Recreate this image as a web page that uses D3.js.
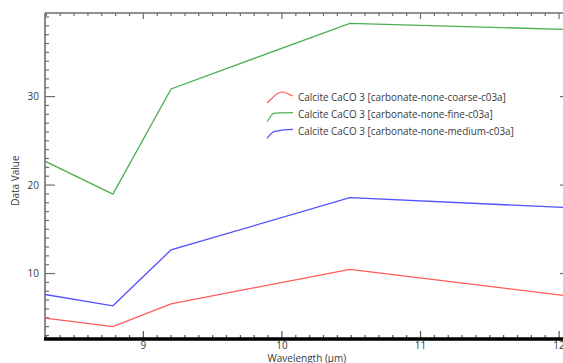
<!DOCTYPE html>
<html>
<head>
<meta charset="utf-8">
<script src="https://cdn.jsdelivr.net/npm/d3@7"></script>
<style>
  html, body { margin: 0; padding: 0; background: #fff; }
  svg { display: block; }
  text { font-family: "Open Sans", "Noto Sans", sans-serif; fill: #3a3a3a; }
</style>
</head>
<body>
<svg id="chart" width="563" height="363"></svg>
<script>
// Wavelengths (µm) of the sampled bands
const wavelengths = [8.29, 8.78, 9.2, 10.49, 12.05];

// Spectral values per sample
const coarse = [4.96, 4.01, 6.58, 10.48, 7.48];
const fine   = [22.7, 18.97, 30.86, 38.28, 37.6];
const medium = [7.63, 6.35, 12.68, 18.57, 17.46];

const seriesNames = [
  "Calcite CaCO 3 [carbonate-none-coarse-c03a]",
  "Calcite CaCO 3 [carbonate-none-fine-c03a]",
  "Calcite CaCO 3 [carbonate-none-medium-c03a]"
];
const seriesColors = ["#ff5a5a", "#4caf50", "#5050ff"];

const xTicks = [9, 10, 11, 12];
const yTicks = [10, 20, 30];

const series = [coarse, fine, medium].map((vals, i) => ({
  name: seriesNames[i],
  color: seriesColors[i],
  points: vals.map((v, j) => ({ x: wavelengths[j], y: v }))
}));

const svg = d3.select("#chart");
const pLeft = 45, pRight = 566, pTop = 13, pBottom = 339;

const x = d3.scaleLinear().domain([8.29, 12.05]).range([pLeft, pRight]);
const y = d3.scaleLinear().domain([2.6, 39.45]).range([pBottom, pTop]);

svg.append("defs").append("clipPath").attr("id", "plotClip")
  .append("rect").attr("x", pLeft).attr("y", pTop)
  .attr("width", pRight - pLeft).attr("height", pBottom - pTop);

// Minor tick positions
const xMinor = d3.range(83, 121).map(d => d / 10).filter(v => v >= 8.29 && v <= 12.05 && !xTicks.includes(v));
const yMinor = d3.range(3, 40).filter(v => !yTicks.includes(v));

const axisG = svg.append("g");

// Left axis (ticks pointing inward)
axisG.append("line").attr("x1", pLeft).attr("x2", pLeft).attr("y1", pTop).attr("y2", pBottom)
  .attr("stroke", "#6e6e6e").attr("stroke-width", 1.6);
axisG.selectAll(".ylminor").data(yMinor).enter().append("line")
  .attr("x1", pLeft).attr("x2", pLeft + 4).attr("y1", d => y(d)).attr("y2", d => y(d))
  .attr("stroke", "#6e6e6e").attr("stroke-width", 1.2);
axisG.selectAll(".ylmajor").data(yTicks).enter().append("line")
  .attr("x1", pLeft).attr("x2", pLeft + 10).attr("y1", d => y(d)).attr("y2", d => y(d))
  .attr("stroke", "#6e6e6e").attr("stroke-width", 1.2);
axisG.selectAll(".yl").data(yTicks).enter().append("text")
  .attr("x", 39).attr("y", d => y(d)).attr("dy", "0.35em")
  .attr("text-anchor", "end").attr("font-size", 10).text(d => d);

// Right axis ticks
axisG.selectAll(".yrminor").data(yMinor).enter().append("line")
  .attr("x1", pRight).attr("x2", pRight - 3).attr("y1", d => y(d)).attr("y2", d => y(d))
  .attr("stroke", "#6e6e6e").attr("stroke-width", 1.2);
axisG.selectAll(".yrmajor").data(yTicks).enter().append("line")
  .attr("x1", pRight).attr("x2", pRight - 6).attr("y1", d => y(d)).attr("y2", d => y(d))
  .attr("stroke", "#6e6e6e").attr("stroke-width", 1.2);

// Top axis
axisG.append("line").attr("x1", pLeft).attr("x2", pRight).attr("y1", pTop).attr("y2", pTop)
  .attr("stroke", "#6e6e6e").attr("stroke-width", 1.6);
axisG.selectAll(".xtminor").data(xMinor).enter().append("line")
  .attr("x1", d => x(d)).attr("x2", d => x(d)).attr("y1", pTop).attr("y2", pTop + 3)
  .attr("stroke", "#6e6e6e").attr("stroke-width", 1.2);
axisG.selectAll(".xtmajor").data(xTicks).enter().append("line")
  .attr("x1", d => x(d)).attr("x2", d => x(d)).attr("y1", pTop).attr("y2", pTop + 6)
  .attr("stroke", "#6e6e6e").attr("stroke-width", 1.2);

// Bottom axis (heavy baseline)
axisG.selectAll(".xbminor").data(xMinor).enter().append("line")
  .attr("x1", d => x(d)).attr("x2", d => x(d)).attr("y1", pBottom).attr("y2", pBottom - 4)
  .attr("stroke", "#555").attr("stroke-width", 1.2);
axisG.selectAll(".xbmajor").data(xTicks).enter().append("line")
  .attr("x1", d => x(d)).attr("x2", d => x(d)).attr("y1", pBottom).attr("y2", pBottom - 8)
  .attr("stroke", "#555").attr("stroke-width", 1.2);
axisG.append("line").attr("x1", pLeft - 1).attr("x2", pRight).attr("y1", pBottom).attr("y2", pBottom)
  .attr("stroke", "#000").attr("stroke-width", 3.4);
axisG.selectAll(".xl").data(xTicks).enter().append("text")
  .attr("x", d => x(d)).attr("y", 345.3).attr("dy", "0.35em")
  .attr("text-anchor", "middle").attr("font-size", 10).text(d => d);

// Axis titles
svg.append("text").attr("x", x(10.18)).attr("y", 358.3).attr("dy", "0.35em")
  .attr("text-anchor", "middle").attr("font-size", 10).text("Wavelength (µm)");
svg.append("text").attr("transform", `translate(15,${y(20.5)}) rotate(-90)`)
  .attr("dy", "0.35em").attr("text-anchor", "middle").attr("font-size", 10).text("Data Value");

// Series lines
const line = d3.line().x(d => x(d.x)).y(d => y(d.y));
svg.append("g").attr("clip-path", "url(#plotClip)")
  .selectAll("path").data(series).enter().append("path")
  .attr("d", d => line(d.points))
  .attr("fill", "none").attr("stroke", d => d.color).attr("stroke-width", 1.3);

// Legend
const legend = svg.append("g").attr("transform", "translate(267,98)");
const icons = [
  "M0,5 C4,2 9,-6 15,-6 C19,-6 22,-3 26,-2",
  "M0,7 C2,5 4,0 6,-1 C10,-2 18,-2 26,-2",
  "M0,7 C2,5 4,1 8,0 C12,-1 18,-2 26,-2"
];
const rows = legend.selectAll("g").data(series).enter().append("g")
  .attr("transform", (d, i) => `translate(0,${i * 16.7})`);
rows.append("path").attr("d", (d, i) => icons[i])
  .attr("fill", "none").attr("stroke", d => d.color).attr("stroke-width", 1.2);
rows.append("text").attr("x", 31).attr("y", 0).attr("dy", "0.35em")
  .attr("font-size", 9.9).text(d => d.name);
</script>
</body>
</html>
